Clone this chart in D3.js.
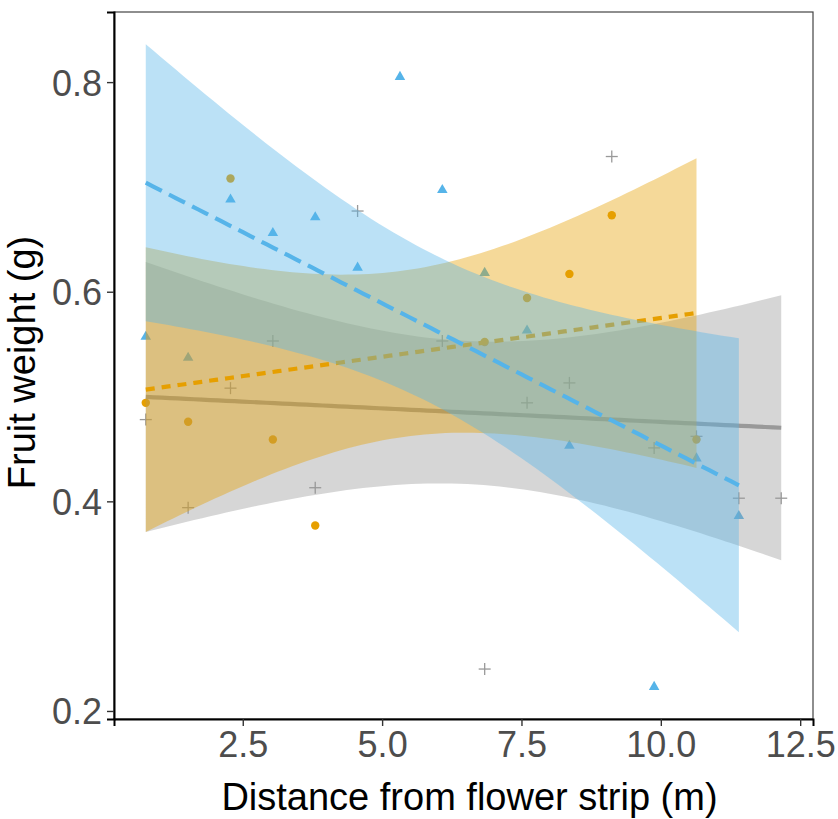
<!DOCTYPE html>
<html>
<head>
<meta charset="utf-8">
<script src="https://cdn.jsdelivr.net/npm/d3@7"></script>
<style>
  html, body { margin: 0; padding: 0; background: #fff; }
  svg { display: block; }
  text { font-family: "Liberation Sans", Arial, Helvetica, sans-serif; }
</style>
</head>
<body>
<svg id="chart" width="838" height="819"></svg>
<script>
// Distances sampled along the transect (m)
const greyX   = [0.76, 1.52, 2.28, 3.04, 3.80, 4.56, 6.08, 6.84, 7.60, 8.36, 9.12, 9.88, 10.64, 11.40, 12.16];
const greyY   = [0.478, 0.394, 0.508, 0.553, 0.413, 0.677, 0.553, 0.240, 0.494, 0.513, 0.729, 0.451, 0.462, 0.403, 0.403];

const orangeX = [0.76, 1.52, 2.28, 3.04, 3.80, 6.84, 7.60, 8.36, 9.12, 10.64];
const orangeY = [0.494, 0.476, 0.708, 0.459, 0.377, 0.552, 0.594, 0.617, 0.673, 0.459];

const blueX   = [0.76, 1.52, 2.28, 3.04, 3.80, 4.56, 5.32, 6.08, 6.84, 7.60, 8.36, 9.88, 10.64, 11.40];
const blueY   = [0.557, 0.537, 0.688, 0.656, 0.671, 0.623, 0.805, 0.697, 0.618, 0.563, 0.453, 0.223, 0.441, 0.386];

const xTicks = [2.5, 5.0, 7.5, 10.0, 12.5];
const yTicks = [0.2, 0.4, 0.6, 0.8];

const xTitle = "Distance from flower strip (m)";
const yTitle = "Fruit weight (g)";

const groups = [
  { key: "grey",   xs: greyX,   ys: greyY,   color: "#999999", shape: "plus",     dash: null },
  { key: "orange", xs: orangeX, ys: orangeY, color: "#E69F00", shape: "circle",   dash: "9,7" },
  { key: "blue",   xs: blueX,   ys: blueY,   color: "#56B4E9", shape: "triangle", dash: "18,8" }
];

// ---- statistics: ordinary least squares with a 95% confidence band ----
function lgamma(z) {
  const g = 7;
  const c = [0.99999999999980993, 676.5203681218851, -1259.1392167224028,
    771.32342877765313, -176.61502916214059, 12.507343278686905,
    -0.13857109526572012, 9.9843695780195716e-6, 1.5056327351493116e-7];
  if (z < 0.5) return Math.log(Math.PI / Math.sin(Math.PI * z)) - lgamma(1 - z);
  z -= 1;
  let a = c[0];
  const t = z + g + 0.5;
  for (let i = 1; i < g + 2; i++) a += c[i] / (z + i);
  return 0.5 * Math.log(2 * Math.PI) + (z + 0.5) * Math.log(t) - t + Math.log(a);
}
function tPdf(x, v) {
  return Math.exp(lgamma((v + 1) / 2) - lgamma(v / 2) - 0.5 * Math.log(v * Math.PI)
    - (v + 1) / 2 * Math.log(1 + x * x / v));
}
function tCdf(t, v) {
  const n = 400, h = t / n;
  let s = tPdf(0, v) + tPdf(t, v);
  for (let i = 1; i < n; i++) s += (i % 2 ? 4 : 2) * tPdf(i * h, v);
  return 0.5 + s * h / 3;
}
function tQuantile(p, v) {
  let lo = 0, hi = 30;
  for (let i = 0; i < 60; i++) {
    const mid = (lo + hi) / 2;
    if (tCdf(mid, v) < p) lo = mid; else hi = mid;
  }
  return (lo + hi) / 2;
}
function linearFit(xs, ys) {
  const n = xs.length;
  const mx = d3.mean(xs), my = d3.mean(ys);
  let sxx = 0, sxy = 0;
  for (let i = 0; i < n; i++) { sxx += (xs[i] - mx) ** 2; sxy += (xs[i] - mx) * (ys[i] - my); }
  const b = sxy / sxx, a = my - b * mx;
  let sse = 0;
  for (let i = 0; i < n; i++) sse += (ys[i] - a - b * xs[i]) ** 2;
  const s = Math.sqrt(sse / (n - 2));
  const tq = tQuantile(0.975, n - 2);
  const [x0, x1] = d3.extent(xs);
  const pts = d3.range(80).map(i => {
    const x = x0 + (x1 - x0) * i / 79;
    const fit = a + b * x;
    const se = s * Math.sqrt(1 / n + (x - mx) ** 2 / sxx);
    return { x, fit, lo: fit - tq * se, hi: fit + tq * se };
  });
  return pts;
}
groups.forEach(g => { g.band = linearFit(g.xs, g.ys); });

// ---- layout ----
const svg = d3.select("#chart");
const W = 838, H = 819;
const margin = { left: 114, right: 25, top: 12, bottom: 100 };
const pw = W - margin.left - margin.right;
const ph = H - margin.top - margin.bottom;

// scale limits padded by 5% of the range covered by points and bands
const allX = groups.flatMap(g => g.xs);
const allY = groups.flatMap(g => g.ys.concat(g.band.map(d => d.lo), g.band.map(d => d.hi)));
function padded([lo, hi]) { const e = (hi - lo) * 0.05; return [lo - e, hi + e]; }

const x = d3.scaleLinear().domain(padded(d3.extent(allX))).range([margin.left, margin.left + pw]);
const y = d3.scaleLinear().domain(padded(d3.extent(allY))).range([margin.top + ph, margin.top]);

const plot = svg.append("g");
const clipId = "panel-clip";
svg.append("clipPath").attr("id", clipId)
  .append("rect").attr("x", margin.left).attr("y", margin.top).attr("width", pw).attr("height", ph);
plot.attr("clip-path", `url(#${clipId})`);

// points
groups.forEach(g => {
  const pts = g.xs.map((xv, i) => ({ x: xv, y: g.ys[i] }));
  const layer = plot.append("g").attr("class", "points-" + g.key);
  if (g.shape === "plus") {
    const sel = layer.selectAll("g").data(pts).join("g")
      .attr("transform", d => `translate(${x(d.x)},${y(d.y)})`);
    sel.append("line").attr("x1", -6).attr("x2", 6).attr("y1", 0).attr("y2", 0)
      .attr("stroke", g.color).attr("stroke-width", 1.3);
    sel.append("line").attr("x1", 0).attr("x2", 0).attr("y1", -6).attr("y2", 6)
      .attr("stroke", g.color).attr("stroke-width", 1.3);
  } else if (g.shape === "circle") {
    layer.selectAll("circle").data(pts).join("circle")
      .attr("cx", d => x(d.x)).attr("cy", d => y(d.y)).attr("r", 4.2)
      .attr("fill", g.color);
  } else {
    const tri = d3.symbol(d3.symbolTriangle, 48);
    layer.selectAll("path").data(pts).join("path")
      .attr("d", tri)
      .attr("transform", d => `translate(${x(d.x)},${y(d.y)})`)
      .attr("fill", g.color);
  }
});

// confidence bands and fitted lines, one group after another
const area = d3.area().x(d => x(d.x)).y0(d => y(d.lo)).y1(d => y(d.hi));
const line = d3.line().x(d => x(d.x)).y(d => y(d.fit));
groups.forEach(g => {
  plot.append("path").datum(g.band)
    .attr("d", area).attr("fill", g.color).attr("fill-opacity", 0.4);
  const ln = plot.append("path").datum(g.band)
    .attr("d", line).attr("fill", "none")
    .attr("stroke", g.color).attr("stroke-width", 4.2);
  if (g.dash) ln.attr("stroke-dasharray", g.dash);
});

// panel frame
svg.append("rect")
  .attr("x", margin.left).attr("y", margin.top).attr("width", pw).attr("height", ph)
  .attr("fill", "none").attr("stroke", "#444").attr("stroke-width", 1.2);

// axes
const xAxis = d3.axisBottom(x).tickValues(xTicks).tickFormat(d3.format(".1f")).tickSize(7).tickPadding(5);
const yAxis = d3.axisLeft(y).tickValues(yTicks).tickFormat(d3.format(".1f")).tickSize(7).tickPadding(5);

const gx = svg.append("g").attr("transform", `translate(0,${margin.top + ph})`).call(xAxis);
const gy = svg.append("g").attr("transform", `translate(${margin.left},0)`).call(yAxis);

[gx, gy].forEach(g => {
  g.select(".domain").attr("stroke", "#000").attr("stroke-width", 2);
  g.selectAll(".tick line").attr("stroke", "#333").attr("stroke-width", 1.4);
  g.selectAll(".tick text")
    .attr("fill", "#4D4D4D")
    .style("font-size", "36px")
    .style("font-family", "'Liberation Sans', Arial, sans-serif");
});
gx.selectAll(".tick text").attr("dy", "0.72em");
gy.selectAll(".tick text").attr("dy", "0.36em");

// axis titles
svg.append("text")
  .attr("x", margin.left + pw / 2 + 6).attr("y", 810)
  .attr("text-anchor", "middle")
  .attr("fill", "#000")
  .style("font-size", "38px")
  .text(xTitle);

svg.append("text")
  .attr("transform", `translate(35,${margin.top + ph / 2 - 3}) rotate(-90)`)
  .attr("text-anchor", "middle")
  .attr("fill", "#000")
  .style("font-size", "38px")
  .text(yTitle);
</script>
</body>
</html>
